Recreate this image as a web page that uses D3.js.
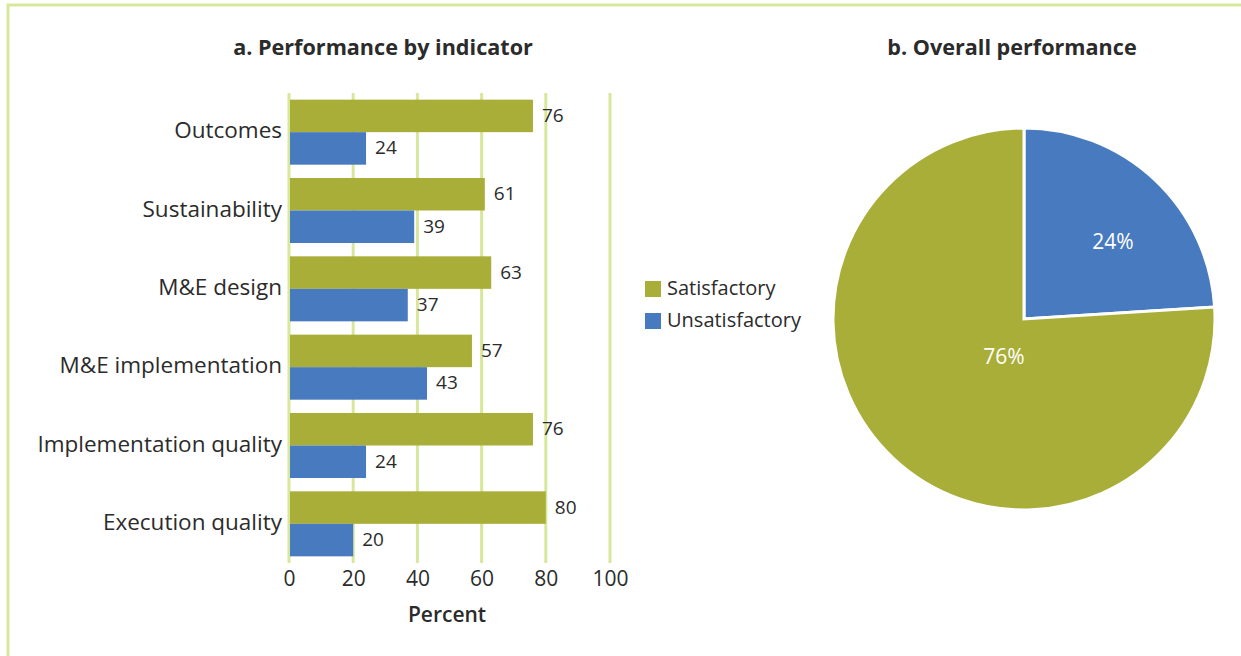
<!DOCTYPE html>
<html><head><meta charset="utf-8">
<script src="https://cdn.jsdelivr.net/npm/d3@7"></script>
<style>
html,body{margin:0;padding:0;background:#fff;}
text{font-family:"Open Sans",sans-serif;}
</style></head>
<body>
<svg id="chart" width="1241" height="656"></svg>
<script>
const categories = ["Outcomes","Sustainability","M&E design","M&E implementation","Implementation quality","Execution quality"];
const satisfactory = [76,61,63,57,76,80];
const unsatisfactory = [24,39,37,43,24,20];
const seriesNames = ["Satisfactory","Unsatisfactory"];
const xTicks = [0,20,40,60,80,100];
const overallLabels = ["Unsatisfactory","Satisfactory"];
const overallValues = [24,76];

const colors = {Satisfactory:"#a9ae39", Unsatisfactory:"#477abe"};
const gridColor = "#d7e79c";
const textColor = "#2b2b2b";

const svg = d3.select("#chart");

// border
svg.append("path")
  .attr("d","M8,656 L8,5 L1241,5")
  .attr("fill","none").attr("stroke",gridColor).attr("stroke-width",3);

// ---- Panel a ----
const x = d3.scaleLinear().domain([0,100]).range([289,610]);
const y = d3.scaleBand().domain(categories).range([93,563]).paddingInner(0.17).paddingOuter(0.085);
const ySub = d3.scaleBand().domain(seriesNames).range([0,y.bandwidth()]);

svg.append("text").attr("x",383).attr("y",55).attr("text-anchor","middle")
  .attr("font-size",21.6).attr("font-weight","bold").attr("fill",textColor)
  .text("a. Performance by indicator");

// gridlines
svg.append("g").selectAll("line").data(xTicks).join("line")
  .attr("x1",d=>x(d)).attr("x2",d=>x(d)).attr("y1",93).attr("y2",563)
  .attr("stroke",gridColor).attr("stroke-width",3);

const rows = categories.map((c,i)=>({cat:c, vals:[{s:"Satisfactory",v:satisfactory[i]},{s:"Unsatisfactory",v:unsatisfactory[i]}]}));
const g = svg.append("g").selectAll("g").data(rows).join("g")
  .attr("transform",d=>`translate(0,${y(d.cat)})`);
g.selectAll("rect").data(d=>d.vals).join("rect")
  .attr("x",x(0)+1).attr("y",d=>ySub(d.s)).attr("height",ySub.bandwidth())
  .attr("width",d=>x(d.v)-x(0)-1).attr("fill",d=>colors[d.s]);
g.selectAll("text.val").data(d=>d.vals).join("text").attr("class","val")
  .attr("x",d=>x(d.v)+9).attr("y",d=>ySub(d.s)+ySub.bandwidth()/2+6)
  .attr("font-size",19).attr("fill",textColor).text(d=>d.v);

// category labels
svg.append("g").selectAll("text").data(categories).join("text")
  .attr("x",282).attr("y",d=>y(d)+y.bandwidth()/2+6)
  .attr("text-anchor","end").attr("font-size",22.5).attr("fill",textColor).text(d=>d);

// x axis labels
const xAxis = d3.axisBottom(x).tickValues(xTicks).tickSize(0).tickPadding(0);
const ax = svg.append("g").attr("transform","translate(0,571)").call(xAxis);
ax.select(".domain").remove();
ax.selectAll("text").attr("font-size",21).attr("fill",textColor).attr("font-weight",400)
  .attr("font-family","Open Sans").attr("dy","0.71em");

svg.append("text").attr("x",447).attr("y",622).attr("text-anchor","middle")
  .attr("font-size",21).attr("font-weight",600).attr("fill",textColor).text("Percent");

// ---- Legend ----
const leg = svg.append("g").selectAll("g").data(seriesNames).join("g")
  .attr("transform",(d,i)=>`translate(645,${281+i*32})`);
leg.append("rect").attr("width",16).attr("height",16).attr("fill",d=>colors[d]);
leg.append("text").attr("x",22).attr("y",14).attr("font-size",20).attr("fill",textColor).text(d=>d);

// ---- Panel b ----
svg.append("text").attr("x",1012).attr("y",55).attr("text-anchor","middle")
  .attr("font-size",21.6).attr("font-weight","bold").attr("fill",textColor)
  .text("b. Overall performance");

const cx = 1024, cy = 319, r = 191;
const pie = d3.pie().sort(null).value(d=>d.v);
const arcs = pie(overallLabels.map((l,i)=>({l, v:overallValues[i]})));
const arc = d3.arc().innerRadius(0).outerRadius(r);
const pg = svg.append("g").attr("transform",`translate(${cx},${cy})`);
pg.selectAll("path").data(arcs).join("path")
  .attr("d",arc).attr("fill",d=>colors[d.data.l]).attr("stroke","#fff").attr("stroke-width",3);
const labelPos = [[89,-70],[-20,45]];
pg.selectAll("text").data(arcs).join("text")
  .attr("x",(d,i)=>labelPos[i][0]).attr("y",(d,i)=>labelPos[i][1])
  .attr("text-anchor","middle").attr("font-size",21).attr("fill","#fff")
  .text(d=>d.data.v+"%");
</script>
</body></html>
